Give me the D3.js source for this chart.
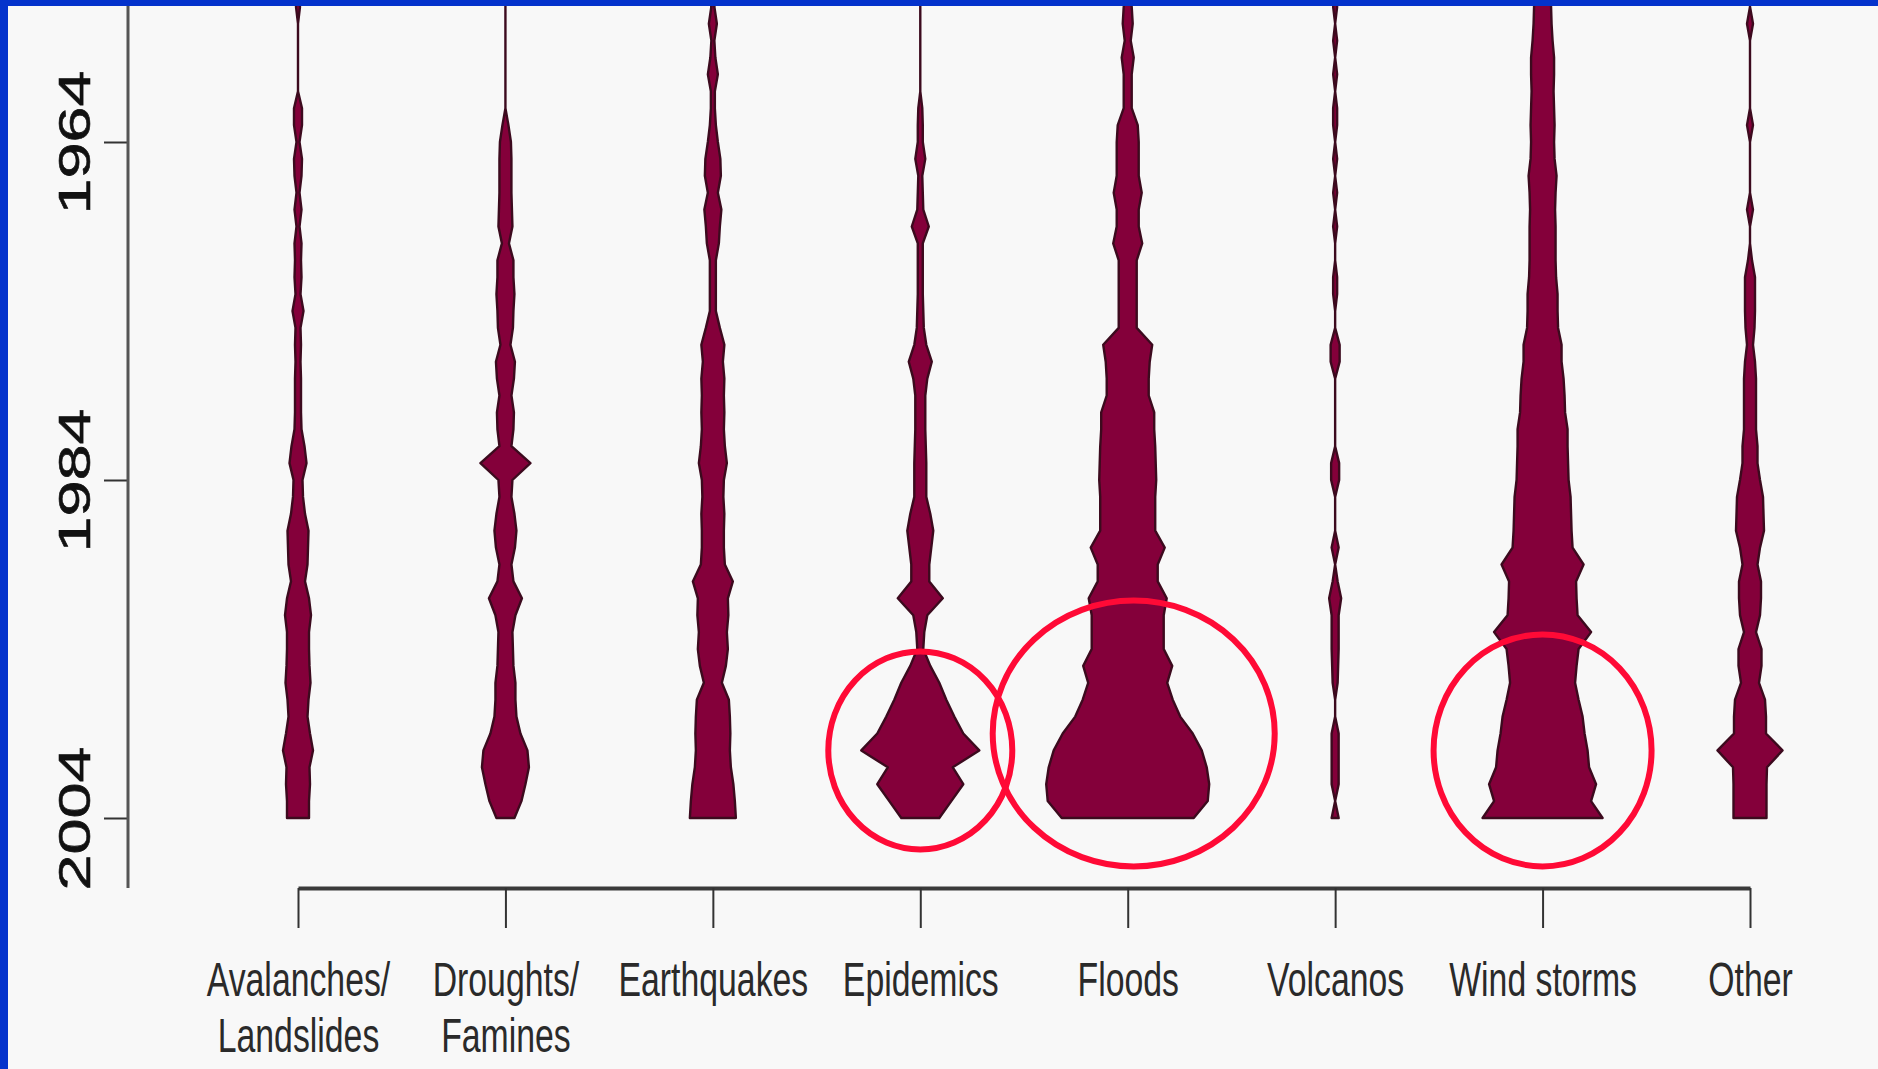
<!DOCTYPE html>
<html>
<head>
<meta charset="utf-8">
<script src="https://cdn.jsdelivr.net/npm/d3@7/dist/d3.min.js"></script>
<style>
  body { margin: 0; background: #f8f8f8; }
  svg { display: block; }
</style>
</head>
<body>
<div id="chart"></div>
<script>

// categories and their two-line axis labels
var categories = ["Avalanches", "Droughts", "Earthquakes", "Epidemics", "Floods", "Volcanos", "Wind storms", "Other"];
var categoryLabels = [["Avalanches/", "Landslides"], ["Droughts/", "Famines"], ["Earthquakes"], ["Epidemics"],
                      ["Floods"], ["Volcanos"], ["Wind storms"], ["Other"]];
var yearTicks = [1964, 1984, 2004];
var firstYear = 1952;   // every series below runs 1952 .. 2004, one value per year

// yearly event counts
var avalanches  = [0,0,0,0,4,0,0,0,0,0, 8,8,3,8,7,3,7,3,7,6, 7,5,11,5,6,5,6,6,6,7,
                   13,17,9,10,14,21,20,19,14,22, 26,22,22,23,25,21,19,24,30,23, 24,22,22];
var droughts    = [0,0,0,0,0,0,0,0,0,0, 0,6,11,12,12,12,13,14,7,16, 16,18,16,15,10,19,17,12,17,16,
                   12,50,14,12,18,22,19,12,16,33, 20,14,15,16,20,20,22,30,44,47, 40,32,18];
var earthquakes = [0,0,0,0,3,8,3,5,10,4, 4,6,10,15,16,10,17,14,12,6, 6,6,6,14,23,20,23,22,23,22,
                   24,28,22,21,23,22,22,24,40,30, 31,28,30,26,18,32,34,35,34,36, 41,44,46];
var epidemics   = [0,0,0,0,0,0,0,0,0,0, 4,5,5,10,4,5,6,17,5,5, 5,5,6,7,12,23,14,10,10,10,
                   11,12,12,12,20,26,22,18,18,45, 14,8,6,20,38,52,68,86,118,65, 86,62,38];
var floods      = [0,0,3,0,8,10,6,12,8,8, 8,20,22,22,22,28,22,22,29,18, 18,18,18,18,49,44,42,42,53,53,
                   55,56,57,55,55,55,74,60,60,78, 72,72,72,89,79,90,105,130,148,158, 163,160,132];
var volcanos    = [0,0,0,0,4,0,4,0,4,0, 4,4,0,4,0,4,0,4,0,0, 4,4,0,0,9,9,0,0,0,0,
                   0,8,8,0,0,0,7,0,5,12, 7,7,7,6,5,0,0,7,7,7, 7,0,7];
var windStorms  = [14,15,16,16,17,18,20,23,23,22, 23,24,23,24,28,26,25,26,26,26, 27,30,30,31,38,38,42,44,45,50,
                   50,51,52,56,57,58,60,82,67,68, 70,97,72,68,65,72,80,84,90,93, 107,97,120];
var other       = [0,0,0,0,0,6,0,0,0,0, 0,6,0,0,0,0,6,0,0,4, 10,10,10,9,6,10,12,12,12,12,
                   15,15,20,26,27,28,20,15,22,22, 20,12,23,23,18,30,32,32,65,34, 33,33,33];

// circled regions
var highlightCats  = ["Epidemics", "Floods", "Wind storms"];
var highlightYears = [2000, 1999, 2000];

var series = [avalanches, droughts, earthquakes, epidemics, floods, volcanos, windStorms, other];

var width = 1878, height = 1069,
    axisX = 128, axisY = 888;

var x = d3.scalePoint()
    .domain(categories)
    .range([298, 1750]);
var y = d3.scaleLinear()
    .domain([1964, 2004])
    .range([142, 818]);
var w = d3.scaleLinear()          // half width of a violin
    .domain([0, 100])
    .range([0, 50]);

var svg = d3.select("#chart").append("svg")
    .attr("width", width)
    .attr("height", height);

svg.append("rect")
    .attr("width", width)
    .attr("height", height)
    .style("fill", "#f8f8f8");

var area = d3.area()
    .y(function(d) { return y(d.year); })
    .x0(function(d) { return -w(d.value); })
    .x1(function(d) { return w(d.value); });

categories.forEach(function(cat, i) {
  var rows = series[i].map(function(v, j) { return {year: firstYear + j, value: v}; });
  svg.append("g")
      .attr("transform", "translate(" + x(cat) + ",0)")
    .append("path")
      .datum(rows)
      .attr("d", area)
      .style("fill", "#84003a")
      .style("stroke", "#3c0a1e")
      .style("stroke-width", 2.4)
      .style("stroke-linejoin", "round");
});

// y axis
var yAxis = svg.append("g")
    .attr("transform", "translate(" + axisX + ",0)")
    .call(d3.axisLeft(y).tickValues(yearTicks).tickSize(24).tickFormat(d3.format("d")));
yAxis.select(".domain").remove();
yAxis.append("line")
    .attr("y1", 0)
    .attr("y2", axisY)
    .style("stroke", "#555")
    .style("stroke-width", 3);
yAxis.selectAll(".tick line")
    .style("stroke", "#333")
    .style("stroke-width", 2);
yAxis.selectAll(".tick text")
    .attr("x", 0)
    .attr("dy", 0)
    .attr("text-anchor", "middle")
    .attr("transform", "translate(-38,0) rotate(-90) scale(1.44,1)")
    .style("font-family", "'Liberation Sans', Arial, sans-serif")
    .style("font-size", "45px")
    .style("fill", "#111")
    .style("stroke", "#111")
    .style("stroke-width", 0.6);

// x axis
var xAxis = svg.append("g")
    .attr("transform", "translate(0," + axisY + ")")
    .call(d3.axisBottom(x).tickSize(40).tickSizeOuter(0).tickFormat(""));
xAxis.select(".domain")
    .style("stroke", "#3a3a3a")
    .style("stroke-width", 4);
xAxis.selectAll(".tick line")
    .style("stroke", "#333")
    .style("stroke-width", 2);
xAxis.selectAll(".tick text").remove();
xAxis.selectAll(".tick").each(function(d, i) {
  var tick = d3.select(this);
  categoryLabels[i].forEach(function(line, k) {
    tick.append("text")
        .attr("transform", "translate(0," + (108 + k * 56) + ") scale(0.69,1)")
        .attr("text-anchor", "middle")
        .style("font-family", "'Liberation Sans', Arial, sans-serif")
        .style("font-size", "49px")
        .style("fill", "#2a2a2a")
        .text(line);
  });
});

// red rings
var ringSize = [[92, 99], [141, 133], [109, 116]];
svg.selectAll(".ring")
    .data(highlightCats)
  .enter().append("ellipse")
    .attr("class", "ring")
    .attr("cx", function(d) { return x(d) + (d === "Floods" ? 6 : 0); })
    .attr("cy", function(d, i) { return y(highlightYears[i]); })
    .attr("rx", function(d, i) { return ringSize[i][0]; })
    .attr("ry", function(d, i) { return ringSize[i][1]; })
    .style("fill", "none")
    .style("stroke", "#ff0a36")
    .style("stroke-width", 6);

// blue frame
svg.append("rect")
    .attr("width", 8)
    .attr("height", height)
    .style("fill", "#0433cc");
svg.append("rect")
    .attr("width", width)
    .attr("height", 6)
    .style("fill", "#0433cc");

</script>
</body>
</html>
